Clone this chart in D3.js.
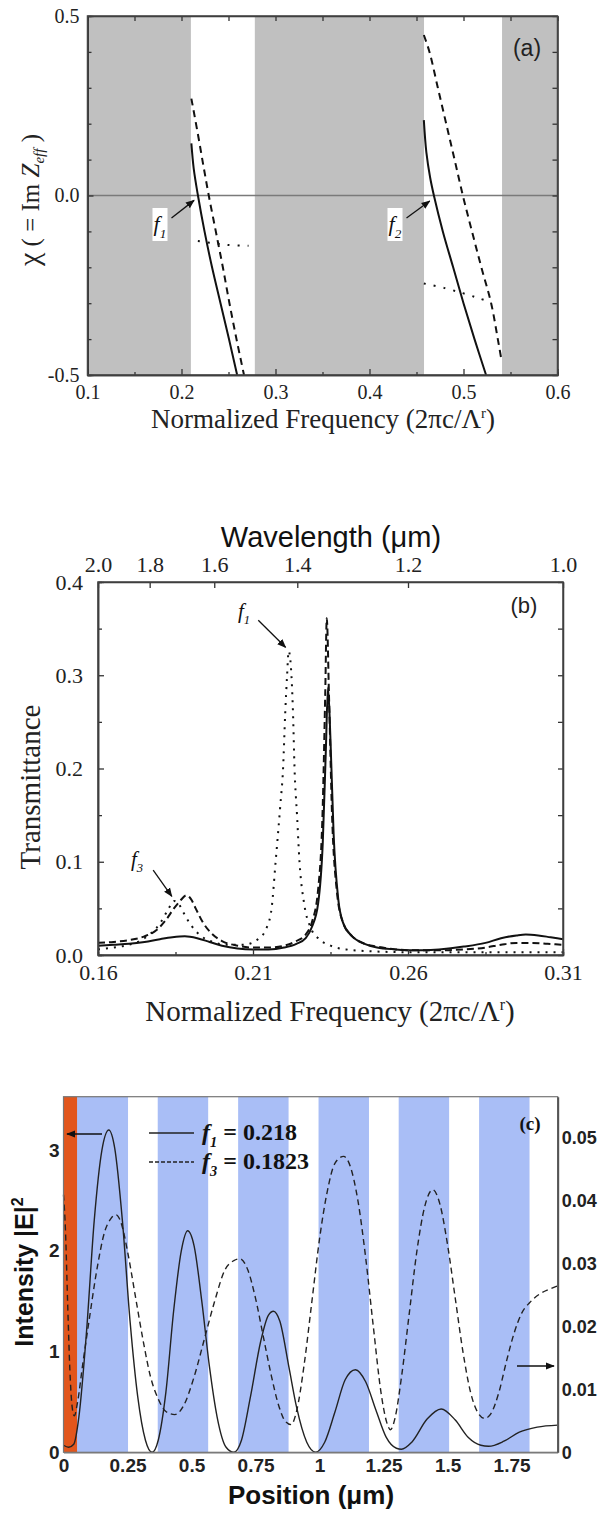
<!DOCTYPE html>
<html>
<head>
<meta charset="utf-8">
<script src="https://cdn.jsdelivr.net/npm/d3@7"></script>
<style>
  body { margin: 0; background: #fff; }
  svg { display: block; }
</style>
</head>
<body>
<svg id="fig" width="603" height="1514"></svg>
<script>
// ---------- panel (a) data ----------
const aGrayBands = [[0.1, 0.21], [0.278, 0.458], [0.541, 0.6]];
const aSolidLow = [[0.2105, 0.145], [0.213, 0.075], [0.2175, 0], [0.2245, -0.1], [0.2325, -0.2], [0.2415, -0.3], [0.2505, -0.4], [0.2592, -0.5]];
const aDashLow = [[0.2105, 0.27], [0.2175, 0.17], [0.2235, 0.08], [0.229, 0], [0.2365, -0.1], [0.244, -0.2], [0.251, -0.3], [0.2585, -0.4], [0.2665, -0.5]];
const aDotLow = [[0.2174, -0.127], [0.235, -0.133], [0.25, -0.138], [0.2713, -0.14]];
const aSolidHigh = [[0.4578, 0.21], [0.4605, 0.12], [0.4645, 0.05], [0.4685, 0], [0.478, -0.1], [0.489, -0.2], [0.5, -0.3], [0.5117, -0.4], [0.524, -0.5]];
const aDashHigh = [[0.4578, 0.447], [0.4638, 0.4], [0.4727, 0.3], [0.4816, 0.2], [0.4905, 0.1], [0.4993, 0], [0.509, -0.1], [0.519, -0.2], [0.5294, -0.3], [0.5365, -0.4], [0.5405, -0.46]];
const aDotHigh = [[0.4578, -0.245], [0.48, -0.258], [0.4993, -0.272], [0.515, -0.285], [0.5277, -0.296]];
const aXTicks = [0.1, 0.2, 0.3, 0.4, 0.5, 0.6];
const aXMinor = [0.15, 0.25, 0.35, 0.45, 0.55];
const aYTicks = [-0.5, 0.0, 0.5];
const aYMinor = [-0.4, -0.3, -0.2, -0.1, 0.1, 0.2, 0.3, 0.4];

// ---------- panel (b) data ----------
const bSolid = [[0.16, 0.010], [0.165, 0.011], [0.17, 0.012], [0.175, 0.014], [0.18, 0.017], [0.184, 0.019], [0.188, 0.02], [0.192, 0.018], [0.196, 0.014], [0.2, 0.01], [0.205, 0.007], [0.21, 0.006], [0.215, 0.006], [0.22, 0.008], [0.224, 0.012], [0.227, 0.018], [0.229, 0.03], [0.231, 0.055], [0.2325, 0.12], [0.2335, 0.22], [0.2342, 0.287], [0.235, 0.23], [0.236, 0.13], [0.2375, 0.06], [0.239, 0.035], [0.242, 0.02], [0.246, 0.012], [0.25, 0.008], [0.256, 0.006], [0.262, 0.005], [0.27, 0.006], [0.278, 0.009], [0.285, 0.013], [0.29, 0.018], [0.295, 0.021], [0.298, 0.022], [0.302, 0.021], [0.306, 0.019], [0.31, 0.017]];
const bDash = [[0.16, 0.013], [0.165, 0.014], [0.17, 0.016], [0.175, 0.02], [0.179, 0.027], [0.182, 0.038], [0.1845, 0.05], [0.1865, 0.058], [0.1885, 0.064], [0.19, 0.06], [0.1915, 0.05], [0.194, 0.034], [0.197, 0.022], [0.2, 0.015], [0.205, 0.01], [0.21, 0.008], [0.215, 0.008], [0.22, 0.01], [0.224, 0.015], [0.227, 0.022], [0.229, 0.035], [0.231, 0.07], [0.2325, 0.16], [0.2333, 0.28], [0.2338, 0.361], [0.2345, 0.28], [0.2355, 0.15], [0.237, 0.07], [0.239, 0.035], [0.242, 0.02], [0.246, 0.012], [0.25, 0.009], [0.256, 0.006], [0.262, 0.005], [0.27, 0.005], [0.278, 0.006], [0.285, 0.008], [0.29, 0.011], [0.295, 0.013], [0.3, 0.013], [0.305, 0.012], [0.31, 0.011]];
const bDot = [[0.16, 0.006], [0.165, 0.008], [0.17, 0.011], [0.174, 0.016], [0.177, 0.023], [0.18, 0.034], [0.1825, 0.048], [0.1845, 0.058], [0.186, 0.055], [0.1875, 0.046], [0.19, 0.032], [0.193, 0.021], [0.197, 0.014], [0.202, 0.011], [0.207, 0.011], [0.212, 0.018], [0.2145, 0.03], [0.216, 0.05], [0.2173, 0.1], [0.2188, 0.16], [0.2197, 0.2], [0.2204, 0.26], [0.221, 0.3], [0.2215, 0.326], [0.2224, 0.3], [0.2229, 0.26], [0.2234, 0.2], [0.2242, 0.15], [0.225, 0.1], [0.2265, 0.055], [0.2285, 0.03], [0.231, 0.018], [0.235, 0.01], [0.24, 0.006], [0.248, 0.004], [0.26, 0.003], [0.275, 0.003], [0.29, 0.003], [0.31, 0.003]];
const bXTicks = [0.16, 0.21, 0.26, 0.31];
const bXMinor = [0.185, 0.235, 0.285];
const bYTicks = [0, 0.1, 0.2, 0.3, 0.4];
const bYMinor = [0.05, 0.15, 0.25, 0.35];
const bWavelengths = [2.0, 1.8, 1.6, 1.4, 1.2, 1.0];

// ---------- panel (c) data ----------
const cMetal = [0, 0.053];
const cBlueBands = [[0.053, 0.252], [0.368, 0.565], [0.682, 0.879], [0.996, 1.193], [1.309, 1.506], [1.623, 1.82]];
const cF1 = [[0, 0.07], [0.02, 0.05], [0.04, 0.08], [0.06, 0.35], [0.09, 1.2], [0.12, 2.3], [0.15, 3.0], [0.177, 3.2], [0.2, 3.02], [0.23, 2.3], [0.26, 1.3], [0.29, 0.55], [0.32, 0.12], [0.346, 0.0], [0.37, 0.12], [0.40, 0.6], [0.43, 1.4], [0.46, 2.0], [0.485, 2.2], [0.51, 2.05], [0.54, 1.5], [0.57, 0.85], [0.60, 0.35], [0.635, 0.05], [0.665, 0.0], [0.695, 0.12], [0.73, 0.55], [0.77, 1.1], [0.80, 1.36], [0.82, 1.4], [0.845, 1.3], [0.88, 0.85], [0.91, 0.45], [0.95, 0.1], [0.985, 0.0], [1.02, 0.1], [1.06, 0.4], [1.10, 0.72], [1.14, 0.82], [1.18, 0.7], [1.22, 0.42], [1.26, 0.15], [1.30, 0.04], [1.32, 0.03], [1.36, 0.1], [1.42, 0.33], [1.475, 0.43], [1.53, 0.32], [1.58, 0.15], [1.63, 0.07], [1.66, 0.06], [1.72, 0.11], [1.78, 0.2], [1.85, 0.25], [1.93, 0.27]];
const cF3 = [[0, 0.041], [0.008, 0.035], [0.016, 0.024], [0.025, 0.013], [0.033, 0.0075], [0.042, 0.0058], [0.055, 0.008], [0.075, 0.014], [0.1, 0.021], [0.13, 0.029], [0.16, 0.035], [0.185, 0.0372], [0.205, 0.0378], [0.225, 0.0365], [0.25, 0.032], [0.28, 0.025], [0.31, 0.018], [0.34, 0.012], [0.37, 0.0085], [0.40, 0.0065], [0.435, 0.006], [0.47, 0.0075], [0.51, 0.012], [0.55, 0.018], [0.59, 0.024], [0.63, 0.029], [0.665, 0.0305], [0.69, 0.0308], [0.72, 0.029], [0.75, 0.0245], [0.78, 0.0185], [0.81, 0.0125], [0.84, 0.0075], [0.865, 0.005], [0.889, 0.0044], [0.91, 0.0065], [0.94, 0.014], [0.97, 0.024], [1.0, 0.034], [1.03, 0.0415], [1.06, 0.046], [1.094, 0.0471], [1.12, 0.0455], [1.15, 0.04], [1.18, 0.031], [1.21, 0.02], [1.24, 0.0095], [1.262, 0.0048], [1.277, 0.0036], [1.295, 0.0055], [1.32, 0.012], [1.35, 0.022], [1.38, 0.032], [1.41, 0.039], [1.442, 0.0418], [1.47, 0.0395], [1.5, 0.033], [1.53, 0.0245], [1.56, 0.016], [1.59, 0.0095], [1.62, 0.0062], [1.645, 0.0054], [1.67, 0.0062], [1.7, 0.0095], [1.73, 0.0145], [1.76, 0.019], [1.79, 0.0222], [1.82, 0.0238], [1.86, 0.0252], [1.9, 0.026], [1.93, 0.0265]];
const cXTicks = [0, 0.25, 0.5, 0.75, 1, 1.25, 1.5, 1.75];
const cYLeftTicks = [0, 1, 2, 3];
const cYRightTicks = [0, 0.01, 0.02, 0.03, 0.04, 0.05];

const SERIF = "'Liberation Serif', 'Times New Roman', serif";
const SANS = "'Liberation Sans', Arial, sans-serif";

const svg = d3.select('#fig');

// arrowhead
svg.append('defs').append('marker')
  .attr('id', 'arr')
  .attr('viewBox', '0 0 10 10')
  .attr('refX', 9).attr('refY', 5)
  .attr('markerWidth', 9).attr('markerHeight', 9)
  .attr('markerUnits', 'userSpaceOnUse')
  .attr('orient', 'auto')
  .append('path').attr('d', 'M0,1 L10,5 L0,9 Z').attr('fill', '#111');

function styleAxis(g, family, size, weight) {
  g.attr('font-family', family).attr('font-size', size)
    .attr('font-weight', weight || 'normal').attr('color', '#333');
  g.select('.domain').attr('stroke-width', 1.5);
  g.selectAll('.tick line').attr('stroke-width', 1.3);
  g.selectAll('.tick text')
    .style('font-family', family).style('font-size', size + 'px')
    .style('font-weight', weight || 'normal').attr('fill', '#222');
}

function fTag(sel, x, y, sub, size, weight) {
  const t = sel.append('text').attr('x', x).attr('y', y)
    .attr('font-family', SERIF).attr('font-size', size)
    .attr('font-weight', weight || 'normal').attr('fill', '#111');
  t.append('tspan').attr('font-style', 'italic').text('f');
  t.append('tspan').attr('font-style', 'italic').attr('font-size', size * 0.6)
    .attr('dy', size * 0.3).text(sub);
  return t;
}

function freqTitle(g, cx, baseline, size) {
  const t = g.append('text').attr('x', cx).attr('y', baseline).attr('text-anchor', 'middle')
    .attr('font-family', SERIF).attr('font-size', size).attr('fill', '#222');
  t.append('tspan').text('Normalized Frequency (2πc/Λ');
  t.append('tspan').attr('font-size', size * 0.55).attr('dy', -size * 0.38).text('r');
  t.append('tspan').attr('dy', size * 0.38).text(')');
}

// ================= panel (a) =================
{
  const x = d3.scaleLinear().domain([0.1, 0.6]).range([87.5, 557.5]);
  const y = d3.scaleLinear().domain([-0.5, 0.5]).range([375, 16]);
  const g = svg.append('g');

  g.selectAll('rect.band').data(aGrayBands).join('rect')
    .attr('x', d => x(d[0])).attr('width', d => x(d[1]) - x(d[0]))
    .attr('y', y(0.5)).attr('height', y(-0.5) - y(0.5))
    .attr('fill', '#c0c0c0');

  g.append('line').attr('x1', x(0.1)).attr('x2', x(0.6))
    .attr('y1', y(0)).attr('y2', y(0))
    .attr('stroke', '#7a7a7a').attr('stroke-width', 1.5);

  const line = d3.line().x(d => x(d[0])).y(d => y(d[1])).curve(d3.curveCatmullRom);
  const series = [
    [aSolidLow, null], [aSolidHigh, null],
    [aDashLow, '7,5'], [aDashHigh, '7,5'],
    [aDotLow, '2,8'], [aDotHigh, '2,8']
  ];
  series.forEach(([d, dash]) => {
    g.append('path').datum(d).attr('d', line)
      .attr('fill', 'none').attr('stroke', '#111').attr('stroke-width', 2)
      .attr('stroke-dasharray', dash);
  });

  // axes, ticks pointing in
  const fmt = d => d.toFixed(1);
  const bx = g.append('g').attr('transform', `translate(0,${y(-0.5)})`)
    .call(d3.axisBottom(x).tickValues(aXTicks).tickSize(-6).tickSizeOuter(0).tickPadding(10).tickFormat(fmt));
  styleAxis(bx, SERIF, 20);
  const bxm = g.append('g').attr('transform', `translate(0,${y(-0.5)})`)
    .call(d3.axisBottom(x).tickValues(aXMinor).tickSize(-3).tickFormat(''));
  styleAxis(bxm, SERIF, 20);
  const tx = g.append('g').attr('transform', `translate(0,${y(0.5)})`)
    .call(d3.axisTop(x).tickValues(aXTicks.concat(aXMinor)).tickSize(-5).tickSizeOuter(0).tickFormat(''));
  styleAxis(tx, SERIF, 20);
  const ly = g.append('g').attr('transform', `translate(${x(0.1)},0)`)
    .call(d3.axisLeft(y).tickValues(aYTicks).tickSize(-6).tickSizeOuter(0).tickPadding(8).tickFormat(fmt));
  styleAxis(ly, SERIF, 20);
  const lym = g.append('g').attr('transform', `translate(${x(0.1)},0)`)
    .call(d3.axisLeft(y).tickValues(aYMinor).tickSize(-4).tickFormat(''));
  styleAxis(lym, SERIF, 20);
  const ry = g.append('g').attr('transform', `translate(${x(0.6)},0)`)
    .call(d3.axisRight(y).tickValues(aYTicks.concat(aYMinor)).tickSize(-5).tickSizeOuter(0).tickFormat(''));
  styleAxis(ry, SERIF, 20);

  freqTitle(g, 323, 428, 27);

  const yt = g.append('text').attr('transform', 'translate(39,200) rotate(-90)')
    .attr('text-anchor', 'middle').attr('font-family', SERIF).attr('font-size', 25).attr('fill', '#222');
  yt.append('tspan').attr('font-size', 30).text('χ');
  yt.append('tspan').text('  ( = Im ');
  yt.append('tspan').attr('font-style', 'italic').text('Z');
  yt.append('tspan').attr('font-style', 'italic').attr('font-size', 15).attr('dy', 5).text('eff');
  yt.append('tspan').attr('dy', -5).text(' )');

  g.append('text').attr('x', 527).attr('y', 56).attr('text-anchor', 'middle')
    .attr('font-family', SANS).attr('font-size', 23).attr('fill', '#222').text('(a)');

  // f1 / f2 annotations
  [[x(0.2155), y(-0.008), 152.5, '1'], [x(0.4662), y(-0.01), 387.5, '2']].forEach(([tipX, tipY, bx0, s]) => {
    g.append('rect').attr('x', bx0).attr('y', 208).attr('width', 15).attr('height', 33).attr('fill', '#fff');
    fTag(g, bx0 + 1, 231, s, 22);
    g.append('line').attr('x1', bx0 + 19).attr('y1', 218).attr('x2', tipX - 2).attr('y2', tipY + 2)
      .attr('stroke', '#111').attr('stroke-width', 1.3).attr('marker-end', 'url(#arr)');
  });

  g.append('rect').attr('x', x(0.1)).attr('y', y(0.5)).attr('width', x(0.6) - x(0.1)).attr('height', y(-0.5) - y(0.5))
    .attr('fill', 'none').attr('stroke', '#444').attr('stroke-width', 1.5);
}

// ================= panel (b) =================
{
  const x = d3.scaleLinear().domain([0.16, 0.31]).range([98, 563]);
  const y = d3.scaleLinear().domain([0, 0.4]).range([955, 582]);
  const inv = d3.scaleLinear().domain([0.5, 1.0]).range([98, 563]);
  const g = svg.append('g');

  const line = d3.line().x(d => x(d[0])).y(d => y(d[1])).curve(d3.curveMonotoneX);
  [[bDot, '2,6'], [bDash, '7,4'], [bSolid, null]].forEach(([d, dash]) => {
    g.append('path').datum(d).attr('d', line)
      .attr('fill', 'none').attr('stroke', '#111').attr('stroke-width', 2)
      .attr('stroke-dasharray', dash);
  });

  const bx = g.append('g').attr('transform', `translate(0,${y(0)})`)
    .call(d3.axisBottom(x).tickValues(bXTicks).tickSize(-6).tickSizeOuter(0).tickPadding(9).tickFormat(d => d.toFixed(2)));
  styleAxis(bx, SERIF, 22);
  const bxm = g.append('g').attr('transform', `translate(0,${y(0)})`)
    .call(d3.axisBottom(x).tickValues(bXMinor).tickSize(-3).tickFormat(''));
  styleAxis(bxm, SERIF, 22);
  const tx = g.append('g').attr('transform', `translate(0,${y(0.4)})`)
    .call(d3.axisTop(inv).tickValues(bWavelengths.map(w => 1 / w)).tickSize(-6).tickSizeOuter(0).tickPadding(10)
      .tickFormat(v => (1 / v).toFixed(1)));
  styleAxis(tx, SERIF, 22);
  const ly = g.append('g').attr('transform', `translate(${x(0.16)},0)`)
    .call(d3.axisLeft(y).tickValues(bYTicks).tickSize(-6).tickSizeOuter(0).tickPadding(15).tickFormat(d => d.toFixed(1)));
  styleAxis(ly, SERIF, 22);
  const lym = g.append('g').attr('transform', `translate(${x(0.16)},0)`)
    .call(d3.axisLeft(y).tickValues(bYMinor).tickSize(-4).tickFormat(''));
  styleAxis(lym, SERIF, 22);
  const ry = g.append('g').attr('transform', `translate(${x(0.31)},0)`)
    .call(d3.axisRight(y).tickValues(bYTicks.concat(bYMinor)).tickSize(-5).tickSizeOuter(0).tickFormat(''));
  styleAxis(ry, SERIF, 22);

  g.append('rect').attr('x', x(0.16)).attr('y', y(0.4)).attr('width', x(0.31) - x(0.16)).attr('height', y(0) - y(0.4))
    .attr('fill', 'none').attr('stroke', '#444').attr('stroke-width', 1.5);

  g.append('text').attr('x', 331).attr('y', 547).attr('text-anchor', 'middle')
    .attr('font-family', SANS).attr('font-size', 29).attr('fill', '#111').text('Wavelength (μm)');

  freqTitle(g, 330, 1021, 29);

  g.append('text').attr('transform', 'translate(40,787) rotate(-90)').attr('text-anchor', 'middle')
    .attr('font-family', SERIF).attr('font-size', 29).attr('fill', '#222').text('Transmittance');

  g.append('text').attr('x', 524).attr('y', 613).attr('text-anchor', 'middle')
    .attr('font-family', SANS).attr('font-size', 22).attr('fill', '#222').text('(b)');

  fTag(g, 238, 618, '1', 21);
  g.append('line').attr('x1', x(0.2117)).attr('y1', y(0.359)).attr('x2', x(0.2205)).attr('y2', y(0.33))
    .attr('stroke', '#111').attr('stroke-width', 1.3).attr('marker-end', 'url(#arr)');
  fTag(g, 131, 866, '3', 21);
  g.append('line').attr('x1', x(0.1778)).attr('y1', y(0.091)).attr('x2', x(0.1838)).attr('y2', y(0.063))
    .attr('stroke', '#111').attr('stroke-width', 1.3).attr('marker-end', 'url(#arr)');
}

// ================= panel (c) =================
{
  const x = d3.scaleLinear().domain([0, 1.93]).range([63.5, 557.7]);
  const yl = d3.scaleLinear().domain([0, 3.53]).range([1452.3, 1096.7]);
  const yr = d3.scaleLinear().domain([0, 0.0566]).range([1452.3, 1096.7]);
  const g = svg.append('g');

  g.selectAll('rect.blue').data(cBlueBands).join('rect')
    .attr('x', d => x(d[0])).attr('width', d => x(d[1]) - x(d[0]))
    .attr('y', yl(3.53)).attr('height', yl(0) - yl(3.53))
    .attr('fill', '#a9bef6');
  g.append('rect').attr('x', x(cMetal[0])).attr('width', x(cMetal[1]) - x(cMetal[0]))
    .attr('y', yl(3.53)).attr('height', yl(0) - yl(3.53)).attr('fill', '#e2561c');

  g.append('path').datum(cF3)
    .attr('d', d3.line().x(d => x(d[0])).y(d => yr(d[1])).curve(d3.curveMonotoneX))
    .attr('fill', 'none').attr('stroke', '#222').attr('stroke-width', 1.4).attr('stroke-dasharray', '6,4');
  g.append('path').datum(cF1)
    .attr('d', d3.line().x(d => x(d[0])).y(d => yl(d[1])).curve(d3.curveMonotoneX))
    .attr('fill', 'none').attr('stroke', '#222').attr('stroke-width', 1.4);

  g.append('rect').attr('x', x(0)).attr('y', yl(3.53)).attr('width', x(1.93) - x(0)).attr('height', yl(0) - yl(3.53))
    .attr('fill', 'none').attr('stroke', '#777').attr('stroke-width', 1.2);

  const bx = g.append('g').attr('transform', `translate(0,${yl(0)})`)
    .call(d3.axisBottom(x).tickValues(cXTicks).tickSize(0).tickPadding(6).tickFormat(d => String(d)));
  styleAxis(bx, SANS, 19, 'bold');
  bx.select('.domain').attr('stroke', '#777').attr('stroke-width', 1.2);
  const ly = g.append('g').attr('transform', `translate(${x(0)},0)`)
    .call(d3.axisLeft(yl).tickValues(cYLeftTicks).tickSize(0).tickPadding(4).tickFormat(d => String(d)));
  styleAxis(ly, SANS, 19, 'bold');
  ly.select('.domain').remove();
  const ry = g.append('g').attr('transform', `translate(${x(1.93)},0)`)
    .call(d3.axisRight(yr).tickValues(cYRightTicks).tickSize(0).tickPadding(4).tickFormat(d => d === 0 ? '0' : d.toFixed(2)));
  styleAxis(ry, SANS, 18, 'bold');
  ry.select('.domain').attr('stroke', '#555').attr('stroke-width', 2);

  g.append('text').attr('x', 311).attr('y', 1504).attr('text-anchor', 'middle')
    .attr('font-family', SANS).attr('font-weight', 'bold').attr('font-size', 26).attr('fill', '#111').text('Position (μm)');

  const yt = g.append('text').attr('transform', 'translate(33,1272) rotate(-90)').attr('text-anchor', 'middle')
    .attr('font-family', SANS).attr('font-weight', 'bold').attr('font-size', 25).attr('fill', '#111');
  yt.append('tspan').text('Intensity |E|');
  yt.append('tspan').attr('font-size', 16).attr('dy', -10).text('2');

  g.append('text').attr('x', 530).attr('y', 1130).attr('text-anchor', 'middle')
    .attr('font-family', SERIF).attr('font-weight', 'bold').attr('font-size', 19).attr('fill', '#111').text('(c)');

  // legend
  g.append('line').attr('x1', 149).attr('x2', 194).attr('y1', 1133).attr('y2', 1133)
    .attr('stroke', '#222').attr('stroke-width', 1.4);
  const l1 = fTag(g, 202, 1140, '1', 24, 'bold');
  l1.append('tspan').attr('dy', -7.2).text(' = 0.218');
  g.append('line').attr('x1', 149).attr('x2', 194).attr('y1', 1162).attr('y2', 1162)
    .attr('stroke', '#222').attr('stroke-width', 1.4).attr('stroke-dasharray', '4,2');
  const l3 = fTag(g, 202, 1169, '3', 24, 'bold');
  l3.append('tspan').attr('dy', -7.2).text(' = 0.1823');

  // axis pointers
  g.append('line').attr('x1', 102).attr('x2', 67).attr('y1', 1134).attr('y2', 1134)
    .attr('stroke', '#111').attr('stroke-width', 1.5).attr('marker-end', 'url(#arr)');
  g.append('line').attr('x1', 517).attr('x2', 554).attr('y1', 1366).attr('y2', 1366)
    .attr('stroke', '#111').attr('stroke-width', 1.5).attr('marker-end', 'url(#arr)');
}
</script>
</body>
</html>
